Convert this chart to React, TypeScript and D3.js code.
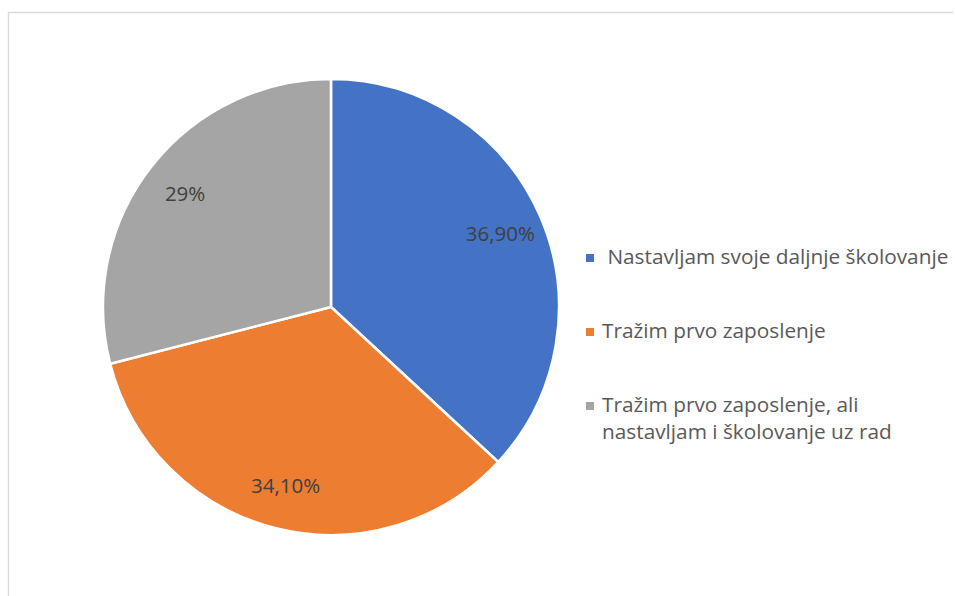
import React from "react";
import * as d3 from "d3";

const categories = [
  " Nastavljam svoje daljnje školovanje",
  "Tražim prvo zaposlenje",
  "Tražim prvo zaposlenje, ali nastavljam i školovanje uz rad",
];
const values = [36.9, 34.1, 29];
const valueLabels = ["36,90%", "34,10%", "29%"];
const colors = ["#4472C4", "#ED7D31", "#A5A5A5"];
const legendLines = [
  [" Nastavljam svoje daljnje školovanje"],
  ["Tražim prvo zaposlenje"],
  ["Tražim prvo zaposlenje, ali", "nastavljam i školovanje uz rad"],
];

const W = 955;
const H = 596;
const cx = 331;
const cy = 307;
const R = 228;

export default function App() {
  const pie = d3.pie<number>().sort(null).value((d) => d);
  const arcs = pie(values);
  const arcGen = d3.arc<d3.PieArcDatum<number>>().innerRadius(0).outerRadius(R);
  const labelArc = d3
    .arc<d3.PieArcDatum<number>>()
    .innerRadius(R * 0.81)
    .outerRadius(R * 0.81);

  const legendY = [264, 338, 412];
  const font = "'Open Sans', sans-serif";

  return (
    <svg
      width={W}
      height={H}
      style={{ position: "absolute", left: 0, top: 0, background: "#fff" }}
    >
      <line x1={8.5} y1={12} x2={8.5} y2={H} stroke="#d9d9d9" strokeWidth={1.3} />
      <line x1={8} y1={12.5} x2={953} y2={12.5} stroke="#d9d9d9" strokeWidth={1.3} />
      <g transform={`translate(${cx},${cy})`}>
        {arcs.map((a, i) => (
          <path key={i} d={arcGen(a) || ""} fill={colors[i]} stroke="#fff" strokeWidth={2.5} strokeLinejoin="round" />
        ))}
        {arcs.map((a, i) => {
          const [x, y] = labelArc.centroid(a);
          return (
            <text
              key={"l" + i}
              x={x}
              y={y}
              dy="0.36em"
              textAnchor="middle"
              fontFamily={font}
              fontSize={20.5}
              fill="#404040"
            >
              {valueLabels[i]}
            </text>
          );
        })}
      </g>
      {categories.map((c, i) => (
        <g key={"lg" + i}>
          <rect x={586} y={legendY[i] - 10} width={8} height={8} fill={colors[i]} />
          <text x={602} y={legendY[i]} fontFamily={font} fontSize={20.8} fill="#595959" style={{ whiteSpace: "pre" }}>
            {legendLines[i].map((ln, j) => (
              <tspan key={j} x={602} dy={j === 0 ? 0 : 27} style={{ whiteSpace: "pre" }}>
                {ln}
              </tspan>
            ))}
          </text>
        </g>
      ))}
    </svg>
  );
}
